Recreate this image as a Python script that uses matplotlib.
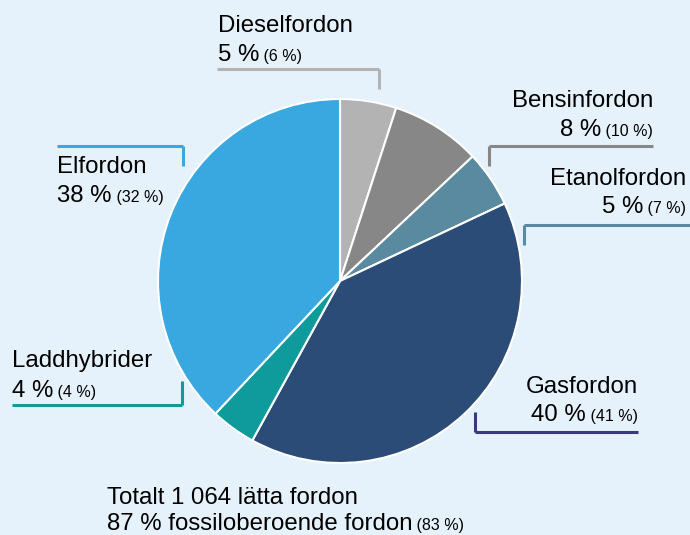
import matplotlib
matplotlib.use("Agg")
import matplotlib.pyplot as plt

plt.rcParams['font.family'] = ['Liberation Sans', 'DejaVu Sans']

# data
labels = ['Dieselfordon', 'Bensinfordon', 'Etanolfordon', 'Gasfordon', 'Laddhybrider', 'Elfordon']
shares = [5, 8, 5, 40, 4, 38]
prev_shares = [6, 10, 7, 41, 4, 32]
colors = ['#b3b3b3', '#878787', '#5a8aa0', '#2c4c78', '#0f9b9b', '#39a8e0']
line_colors = ['#b3b3b3', '#878787', '#5a8aa0', '#3a3a78', '#0f9b9b', '#39a8e0']
total_text = 'Totalt 1 064 lätta fordon'
fossil_share = 87
fossil_prev = 83

BG = '#e6f2fb'
W, H = 690, 535
BIG, SMALL = 17.3, 11.5

fig = plt.figure(figsize=(W / 100, H / 100), dpi=100, facecolor=BG)

# pie: center (340, 281), radius 182 px
cx, cy, r = 340, 281, 182
ax = fig.add_axes([(cx - r) / W, (H - cy - r) / H, 2 * r / W, 2 * r / H])
ax.pie(shares, colors=colors, startangle=90, counterclock=False, radius=1,
       wedgeprops=dict(edgecolor='white', linewidth=1.5))
ax.set_xlim(-1, 1)
ax.set_ylim(-1, 1)
ax.set_aspect('auto')
ax.axis('off')

fig.canvas.draw()
renderer = fig.canvas.get_renderer()


def fx(x):
    return x / W


def fy(y):
    return 1 - y / H


def two_part(x, y, big, small, ha='left'):
    # big text followed by smaller text in parentheses, on one baseline
    t1 = fig.text(fx(x), fy(y), big, fontsize=BIG, va='baseline', ha='left')
    t2 = fig.text(fx(x), fy(y), ' ' + small, fontsize=SMALL, va='baseline', ha='left')
    w1 = t1.get_window_extent(renderer).width
    w2 = t2.get_window_extent(renderer).width
    start = x if ha == 'left' else x - w1 - w2
    t1.set_x(fx(start))
    t2.set_x(fx(start + w1))


def bracket(x0, x1, y, xv, yv, color):
    # horizontal line at y from x0 to x1, vertical at xv from y to yv
    fig.add_artist(plt.Line2D([fx(x0), fx(x1)], [fy(y), fy(y)], color=color, lw=2.2,
                              transform=fig.transFigure, solid_capstyle='butt'))
    fig.add_artist(plt.Line2D([fx(xv), fx(xv)], [fy(y), fy(yv)], color=color, lw=2.2,
                              transform=fig.transFigure, solid_capstyle='butt'))


# label layout: (name x, name baseline, value baseline, align)
layout = {
    'Dieselfordon': (218, 32, 61, 'left'),
    'Bensinfordon': (653, 107, 136, 'right'),
    'Etanolfordon': (686, 185, 213, 'right'),
    'Gasfordon': (638, 393, 421, 'right'),
    'Laddhybrider': (12, 367, 397, 'left'),
    'Elfordon': (57, 173, 202, 'left'),
}
brackets = {
    'Dieselfordon': (217, 379, 69, 379, 89),
    'Bensinfordon': (489, 653, 146, 489, 166),
    'Etanolfordon': (524, 690, 225, 524, 245),
    'Gasfordon': (475, 638, 432, 475, 412),
    'Laddhybrider': (12, 182, 405, 182, 381),
    'Elfordon': (57, 183, 146, 183, 166),
}

for name, s, p, lc in zip(labels, shares, prev_shares, line_colors):
    x, yn, yv, ha = layout[name]
    fig.text(fx(x), fy(yn), name, fontsize=BIG, va='baseline', ha=ha)
    two_part(x, yv, f'{s} %', f'({p} %)', ha=ha)
    bracket(*brackets[name], color=lc)

fig.text(fx(107), fy(504), total_text, fontsize=BIG, va='baseline', ha='left')
two_part(107, 530, f'{fossil_share} % fossiloberoende fordon', f'({fossil_prev} %)')

fig.savefig('out.png', dpi=100, facecolor=BG)
